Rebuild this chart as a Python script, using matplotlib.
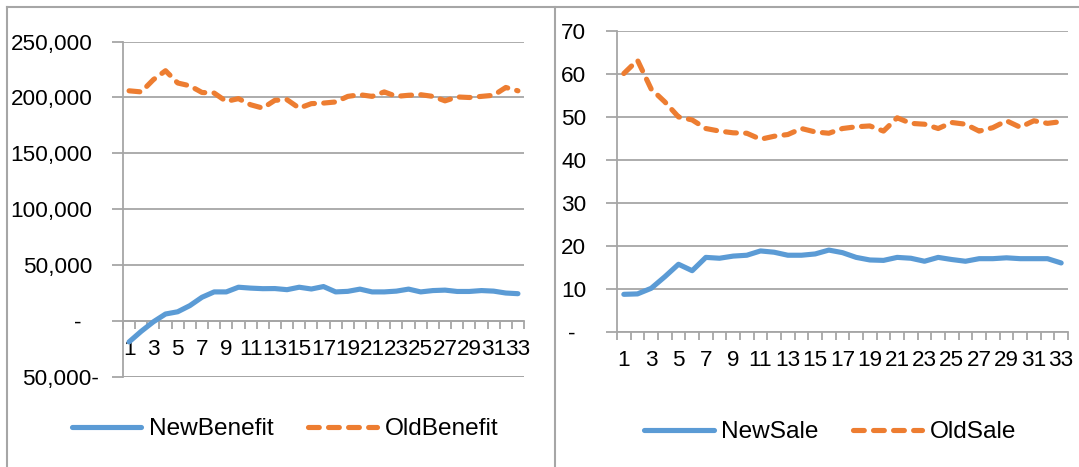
# -*- coding: utf-8 -*-
import numpy as np
import matplotlib
matplotlib.use('Agg')
import matplotlib.pyplot as plt
from matplotlib.lines import Line2D
from matplotlib.transforms import ScaledTranslation

######################
# Data #
######################
periods = list(range(1, 34))

new_benefit = [-19000, -9500, -1000, 6000, 8000, 13500, 21000, 25800, 25800, 30000,
               29200, 28700, 28800, 27800, 30000, 28400, 30600, 25800, 26300, 28300,
               25800, 25800, 26500, 28300, 25800, 27000, 27400, 26200, 26200, 27000,
               26500, 24800, 24200]
old_benefit = [206000, 205000, 216000, 224000, 213000, 210500, 204500, 204000, 196500, 199000,
               193500, 190500, 197500, 198000, 190500, 194500, 195000, 196000, 201000, 202500,
               201000, 205000, 201000, 202000, 202500, 201000, 197000, 200500, 200000, 201000,
               202000, 209000, 206000]

new_sale = [8.7, 8.8, 10.1, 12.8, 15.7, 14.2, 17.3, 17.1, 17.6, 17.8,
            18.8, 18.5, 17.8, 17.8, 18.1, 19.0, 18.4, 17.3, 16.7, 16.6,
            17.3, 17.1, 16.4, 17.3, 16.8, 16.4, 17.0, 17.0, 17.2, 17.0,
            17.0, 17.0, 16.0]
old_sale = [60.1, 63.2, 56.5, 53.5, 50.0, 49.3, 47.3, 46.7, 46.3, 46.2,
            44.8, 45.5, 45.9, 47.3, 46.5, 46.2, 47.3, 47.7, 47.9, 46.7,
            49.8, 48.5, 48.3, 47.3, 48.7, 48.3, 46.7, 47.5, 49.1, 47.6,
            49.1, 48.5, 48.9]

benefit_ticks = [-50000, 0, 50000, 100000, 150000, 200000, 250000]
benefit_labels = ['50,000-', '-', '50,000', '100,000', '150,000', '200,000', '250,000']
sale_ticks = [0, 10, 20, 30, 40, 50, 60, 70]
sale_labels = ['-', '10', '20', '30', '40', '50', '60', '70']

#########
# Style #
#########
BLUE = '#5B9BD5'
ORANGE = '#ED7D31'
GRID = '#A6A6A6'
W, H = 1079, 467

plt.rcParams['font.family'] = ['Liberation Sans', 'DejaVu Sans']

fig = plt.figure(figsize=(W / 100, H / 100), dpi=100)


def px_axes(x0, y0, x1, y1):
    # pixel box (top-left origin) -> figure fraction axes
    return fig.add_axes([x0 / W, 1 - y1 / H, (x1 - x0) / W, (y1 - y0) / H])


def style_axes(ax, ticks, labels, ymin, ymax):
    ax.set_xlim(0.5, 33.5)
    ax.set_ylim(ymin, ymax)
    ax.set_yticks(ticks)
    ax.set_yticklabels(labels)
    ax.grid(axis='y', color=GRID, lw=1.3)
    ax.set_axisbelow(True)
    for s in ['top', 'right']:
        ax.spines[s].set_visible(False)
    ax.spines['left'].set_color(GRID)
    ax.spines['left'].set_linewidth(1.3)
    ax.spines['bottom'].set_color(GRID)
    ax.spines['bottom'].set_linewidth(1.3)
    ax.spines['bottom'].set_position(('data', 0))
    ax.spines['bottom'].set_zorder(0.5)
    ax.set_xticks(periods[::2])
    ax.set_xticklabels([str(p) for p in periods[::2]])
    ax.set_xticks(np.arange(0.5, 34, 1.0), minor=True)
    ax.tick_params(axis='x', which='major', length=0, pad=13, labelsize=16.2)
    ax.tick_params(axis='x', which='minor', length=6, width=1.3, color=GRID, direction='out')
    ax.tick_params(axis='y', length=8, width=1.3, color=GRID, pad=14, labelsize=16.2)
    # accounting style labels: dash sits further left, negative hangs right
    for lab in ax.get_yticklabels():
        txt = lab.get_text()
        if txt == '-':
            lab.set_transform(lab.get_transform() + ScaledTranslation(-8 / 72, 0, fig.dpi_scale_trans))
        elif txt.endswith('-'):
            lab.set_transform(lab.get_transform() + ScaledTranslation(4.5 / 72, 0, fig.dpi_scale_trans))


dash = (0, (2.1, 1.8))
LW = 3.7

# left: benefit
ax1 = px_axes(123, 41.7, 524, 376.5)
style_axes(ax1, benefit_ticks, benefit_labels, -50000, 250000)
ax1.axhline(-50000, color=GRID, lw=1.3, zorder=0.5)
ax1.plot(periods, new_benefit, color=BLUE, lw=LW, solid_capstyle='round',
         solid_joinstyle='round', label='NewBenefit')
ax1.plot(periods, old_benefit, color=ORANGE, lw=LW, linestyle=dash, dash_capstyle='round',
         dash_joinstyle='round', label='OldBenefit')

# right: sale
ax2 = px_axes(617, 31, 1068, 331.7)
style_axes(ax2, sale_ticks, sale_labels, 0, 70)
ax2.plot(periods, new_sale, color=BLUE, lw=LW, solid_capstyle='round',
         solid_joinstyle='round', label='NewSale')
ax2.plot(periods, old_sale, color=ORANGE, lw=LW, linestyle=dash, dash_capstyle='round',
         dash_joinstyle='round', label='OldSale')

for ax, cx, cy in [(ax1, 285, 429), (ax2, 830, 432)]:
    ax.legend(loc='center', bbox_to_anchor=(cx / W, 1 - cy / H), bbox_transform=fig.transFigure,
              ncol=2, frameon=False, fontsize=17.6, handlelength=2.85, handletextpad=0.3,
              columnspacing=1.4, borderpad=0, borderaxespad=0)

# chart frames (two excel charts side by side)
frame = dict(color=GRID, lw=1.5, transform=fig.transFigure)
fig.add_artist(Line2D([7 / W, 7 / W], [0, 1 - 7 / H], **frame))
fig.add_artist(Line2D([7 / W, 1], [1 - 7 / H, 1 - 7 / H], **frame))
fig.add_artist(Line2D([555 / W, 555 / W], [0, 1 - 7 / H], **frame))

fig.savefig('out.png', dpi=100)
